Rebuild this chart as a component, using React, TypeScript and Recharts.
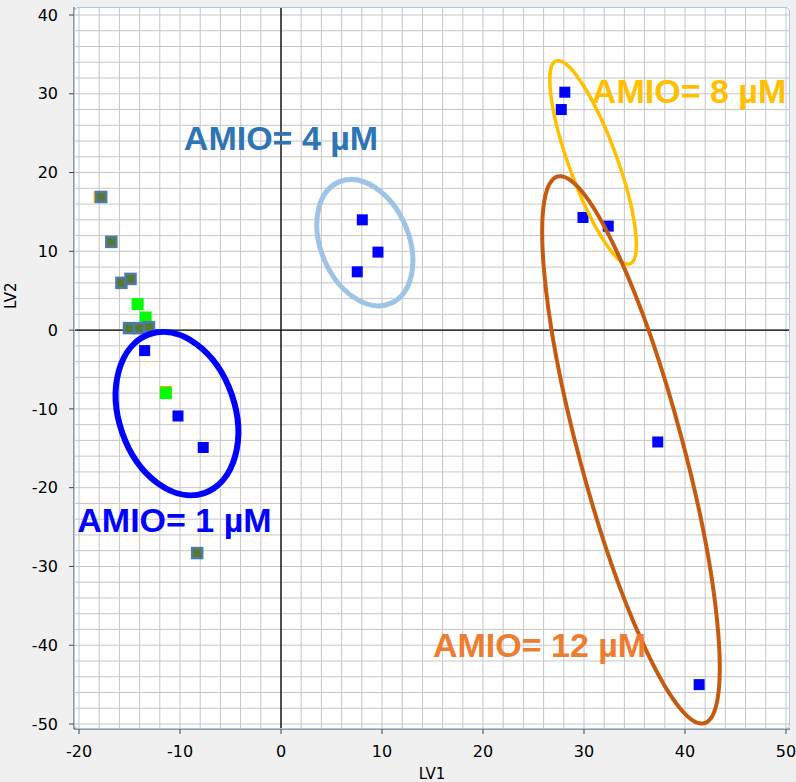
import React from 'react';
import { ScatterChart, Scatter, XAxis, YAxis, CartesianGrid, ReferenceLine, ReferenceDot } from 'recharts';

const xTicks = [-20, -10, 0, 10, 20, 30, 40, 50];
const yTicks = [40, 30, 20, 10, 0, -10, -20, -30, -40, -50];
const gridX = [-20, -18, -16, -14, -12, -10, -8, -6, -4, -2, 0, 2, 4, 6, 8, 10, 12, 14, 16, 18, 20, 22, 24, 26, 28, 30, 32, 34, 36, 38, 40, 42, 44, 46, 48, 50];
const gridY = [-50, -48, -46, -44, -42, -40, -38, -36, -34, -32, -30, -28, -26, -24, -22, -20, -18, -16, -14, -12, -10, -8, -6, -4, -2, 0, 2, 4, 6, 8, 10, 12, 14, 16, 18, 20, 22, 24, 26, 28, 30, 32, 34, 36, 38, 40];

const orangeX = [-17.95, -11.4];
const orangeY = [16.9, -7.85];
const greenX = [-14.2, -13.4, -11.4];
const greenY = [3.3, 1.6, -8.0];
const greyX = [-17.8, -16.8, -15.8, -14.9, -15.05, -14.06, -13.07, -8.3];
const greyY = [16.9, 11.2, 6.0, 6.5, 0.25, 0.25, 0.38, -28.3];
const blueX = [-13.5, -10.2, -7.7, 8.05, 9.6, 7.55, 28.1, 27.75, 29.9, 32.4, 37.3, 41.4];
const blueY = [-2.6, -10.9, -14.9, 14.0, 9.9, 7.4, 30.2, 28.0, 14.3, 13.2, -14.2, -45.0];

const groupNames = ['AMIO= 1 µM', 'AMIO= 4 µM', 'AMIO= 8 µM', 'AMIO= 12 µM'];
const groupCenterX = [-10.3, 8.3, 30.9, 34.65];
const groupCenterY = [-10.6, 11.1, 21.3, -15.2];
const labelX = [-10.55, 0.0, 40.4, 25.6];
const labelY = [-24.1, 24.4, 30.3, -40.0];

const ellipseStyle = [
  { rx: 58, ry: 84, angle: -19, color: '#0000ff', sw: 6 },
  { rx: 44, ry: 66, angle: -23, color: '#9dc3e6', sw: 5 },
  { rx: 24, ry: 108, angle: -20, color: '#ffc000', sw: 3.5 },
  { rx: 52, ry: 283, angle: -15, color: '#c55a11', sw: 4 },
];
const labelColors = ['#0000ff', '#2e75b6', '#ffc000', '#ed7d31'];

const toPts = (xs: number[], ys: number[]) => xs.map((x, i) => ({ x, y: ys[i] }));

const square = (fill: string, stroke: string, side: number, sw: number) => (p: any) => (
  <rect x={p.cx - side / 2} y={p.cy - side / 2} width={side} height={side} fill={fill} stroke={stroke} strokeWidth={sw} />
);

const tickStyle = { fontSize: 16, fill: '#000', fontFamily: 'DejaVu Sans' };

export default function App() {
  return (
    <div style={{ position: 'absolute', left: 0, top: 0, width: 796, height: 782, background: '#f0f0f0' }}>
      <ScatterChart width={796} height={782} margin={{ top: 7, right: 6, left: 0, bottom: 0 }}>
        <CartesianGrid fill="#ffffff" horizontal={false} vertical={false} />
        <XAxis
          type="number"
          dataKey="x"
          domain={[-20, 50]}
          ticks={xTicks}
          allowDataOverflow
          padding={{ left: 5, right: 4 }}
          height={53}
          tickSize={5}
          tickMargin={12}
          tick={tickStyle}
          stroke="#444"
          label={{ value: 'LV1', position: 'insideBottom', offset: 3, fontSize: 15, fill: '#000', fontFamily: 'DejaVu Sans' }}
        />
        <YAxis
          type="number"
          dataKey="y"
          domain={[-50, 40]}
          ticks={yTicks}
          allowDataOverflow
          padding={{ top: 8, bottom: 5 }}
          width={74}
          tickSize={5}
          tickMargin={11}
          tick={tickStyle}
          stroke="#444"
          label={{
            value: 'LV2',
            content: (p: any) => {
              const vb = p.viewBox;
              const cx = vb.x + 11;
              const cy = vb.y + vb.height * 0.4;
              return (
                <text x={cx} y={cy} transform={`rotate(-90 ${cx} ${cy})`} textAnchor="middle" dominantBaseline="central" fontSize={15} fontFamily="DejaVu Sans" fill="#000">
                  LV2
                </text>
              );
            },
          }}
        />
        {gridX.map((v) => (
          <ReferenceLine key={'gx' + v} x={v} stroke="#c6c6c6" strokeWidth={1} />
        ))}
        {gridY.map((v) => (
          <ReferenceLine key={'gy' + v} y={v} stroke="#c6c6c6" strokeWidth={1} />
        ))}
        <ReferenceLine x={0} stroke="#000" strokeWidth={1.3} />
        <ReferenceLine y={0} stroke="#000" strokeWidth={1.3} />
        <Scatter data={toPts(orangeX, orangeY)} isAnimationActive={false} shape={square('#ffa500', 'none', 12, 0)} />
        <Scatter data={toPts(greenX, greenY)} isAnimationActive={false} shape={square('#00ff00', 'none', 12, 0)} />
        <Scatter data={toPts(greyX, greyY)} isAnimationActive={false} shape={square('#557a2e', '#4f7aa8', 10, 2.5)} />
        <Scatter data={toPts(blueX, blueY)} isAnimationActive={false} shape={square('#0000ff', 'none', 11, 0)} />
        {groupNames.map((n, i) => (
          <ReferenceDot
            key={'e' + i}
            x={groupCenterX[i]}
            y={groupCenterY[i]}
            ifOverflow="visible"
            shape={(p: any) => (
              <ellipse
                cx={p.cx}
                cy={p.cy}
                rx={ellipseStyle[i].rx}
                ry={ellipseStyle[i].ry}
                transform={`rotate(${ellipseStyle[i].angle} ${p.cx} ${p.cy})`}
                fill="none"
                stroke={ellipseStyle[i].color}
                strokeWidth={ellipseStyle[i].sw}
              />
            )}
          />
        ))}
        {groupNames.map((n, i) => (
          <ReferenceDot
            key={'l' + i}
            x={labelX[i]}
            y={labelY[i]}
            ifOverflow="visible"
            shape={(p: any) => (
              <text x={p.cx} y={p.cy} textAnchor="middle" dominantBaseline="central" fontSize={34} fontWeight="bold" fontFamily="Liberation Sans" fill={labelColors[i]}>
                {n}
              </text>
            )}
          />
        ))}
      </ScatterChart>
      <div style={{ position: 'absolute', left: 74, top: 7, width: 716, height: 722, boxSizing: 'border-box', border: '1px solid #a8c8e8', borderRadius: 4, pointerEvents: 'none' }} />
    </div>
  );
}
